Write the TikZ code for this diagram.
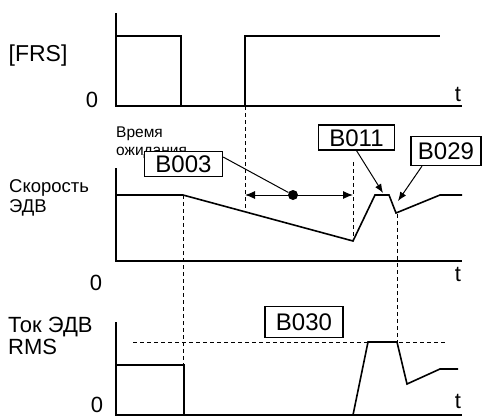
\documentclass[tikz,border=0pt]{standalone}
\usepackage{fontspec}
\setmainfont{Liberation Sans}
\usetikzlibrary{arrows.meta}

\begin{document}
\begin{tikzpicture}[
  x=1pt,y=-1pt,
  wave/.style={line width=1.6pt,line join=miter},
  guide/.style={line width=0.9pt,dash pattern=on 4pt off 3pt},
  param/.style={draw,line width=1.2pt,fill=white,font=\fontsize{24}{26}\selectfont,
    inner xsep=11pt,inner ysep=4pt,text height=17pt,text depth=0pt},
  pointer/.style={-{Latex[length=9pt,width=7pt]},line width=1pt},
  span/.style={{Latex[length=10pt,width=8pt]}-{Latex[length=10pt,width=8pt]},line width=1pt},
  lbl/.style={inner sep=0pt,font=\fontsize{22}{24}\selectfont},
  side/.style={inner sep=0pt,anchor=north west,align=left}
]
\useasboundingbox (0,0) rectangle (483,416);
\node[lbl,font=\fontsize{23}{25}\selectfont] (frs) at (38,56) {[FRS]};
\node[lbl] (zero1) at (92,100) {0};
\node[lbl] (t1) at (458,94) {t};
\node[side,font=\fontsize{15.5}{18}\selectfont] (wait) at (116,127) {Время\\ожидания};
\node[side,font=\fontsize{18.5}{20}\selectfont] (speed) at (9,179) {Скорость\\ЭДВ};
\node[lbl] (zero2) at (96,283) {0};
\node[lbl] (t2) at (458,274) {t};
\node[side,font=\fontsize{22}{22}\selectfont] (current) at (8,317) {Ток ЭДВ\\RMS};
\node[lbl] (zero3) at (97,405) {0};
\node[lbl] (t3) at (458,401) {t};
\draw[wave] (116,13) -- (116,106) -- (462,106);
\draw[wave] (116,36) -- (181,36) -- (181,106);
\draw[wave] (245,106) -- (245,36) -- (440,36);
\draw[wave] (116,168) -- (116,261) -- (462,261);
\draw[wave] (116,195) -- (183,195) -- (353,241) -- (375,195) -- (389,195)
  -- (396,213) -- (440,195) -- (462,195);
\draw[wave] (116,322) -- (116,415) -- (462,415);
\draw[wave] (116,365) -- (184,365) -- (184,415);
\draw[wave] (353,415) -- (368,342) -- (397,342) -- (407,384) -- (440,369) -- (458,369);
\draw[guide] (245,106) -- (245,212);
\draw[guide] (183.5,195) -- (183.5,365);
\draw[guide] (353,162) -- (353,241);
\draw[guide] (397,214) -- (397,342);
\draw[guide] (133,342) -- (447,342);
\coordinate (wbeg) at (245,195);
\coordinate (wend) at (353,195);
\node[circle,fill,inner sep=0pt,minimum size=10pt] (mid) at (293,195) {};
\draw[span] (wbeg) -- (wend);
\node[param] (b003) at (183.5,164) {B003};
\node[param] (b011) at (356.5,137.5) {B011};
\node[param,minimum height=29pt,inner xsep=7pt] (b029) at (446,151) {B029};
\node[param,minimum height=31pt] (b030) at (304,322) {B030};
\coordinate (top11) at (383,193);
\coordinate (dip29) at (398,201);
\draw[line width=1pt] ([yshift=7pt]b003.east) -- (mid);
\draw[pointer] (b011.south) -- (top11);
\draw[pointer] ([xshift=-24pt]b029.south) -- (dip29);
\end{tikzpicture}
\end{document}
